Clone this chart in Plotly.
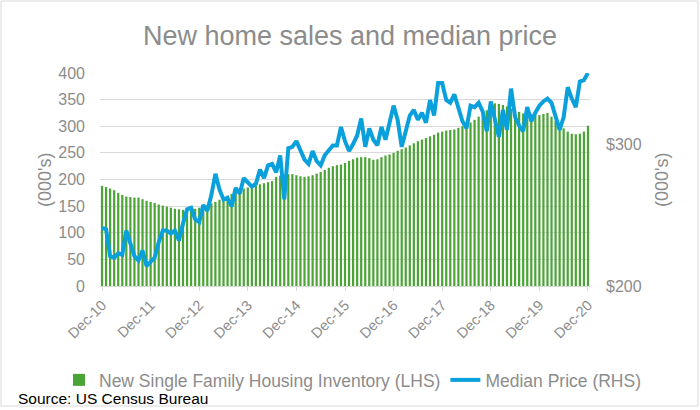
import plotly.graph_objects as go

# Monthly, Dec-2010 .. Dec-2020 (121 months)
inventory = [188, 186, 183, 180, 175, 171, 168, 167, 166, 166, 163, 160,
             158, 156, 153, 151, 149, 147, 145, 144, 143, 143, 144, 145,
             147, 149, 152, 155, 158, 162, 166, 170, 173, 177, 180, 183,
             185, 187, 189, 191, 193, 195, 197, 205, 207, 209, 210, 210,
             208, 206, 205, 206, 208, 211, 214, 218, 222, 225, 227, 228,
             231, 235, 238, 241, 242, 242, 240, 237, 238, 242, 245, 247,
             250, 254, 257, 260, 264, 268, 272, 275, 278, 281, 284, 288,
             290, 292, 293, 294, 297, 300, 303, 307, 312, 318, 324, 330,
             336, 343, 342, 340, 337, 333, 329, 327, 324, 324, 323, 321,
             321, 323, 325, 318, 310, 302, 296, 290, 286, 285, 286, 290,
             301]

median_price = [241, 240, 221, 220, 223, 222, 239, 231, 221, 218, 225, 214,
                217, 220, 231, 239, 239, 237, 239, 232, 244, 254, 255, 247,
                245, 257, 253, 264, 279, 268, 261, 262, 256, 269, 265, 276,
                273, 270, 272, 282, 276, 285, 286, 280, 292, 261, 297, 298,
                302, 295, 289, 286, 295, 288, 285, 292, 295, 299, 299, 312,
                302, 295, 300, 306, 318, 298, 311, 303, 299, 312, 303, 315,
                327, 317, 298, 309, 320, 324, 317, 322, 315, 331, 320, 343,
                343, 331, 329, 335, 325, 316, 311, 327, 326, 329, 323, 309,
                330, 316, 305, 324, 310, 339, 319, 313, 309, 326, 316, 322,
                327, 330, 332, 329, 320, 310, 319, 340, 332, 326, 344, 345,
                350]

month_index = list(range(len(inventory)))
tick_months = list(range(0, 121, 12))
tick_labels = ["Dec-10", "Dec-11", "Dec-12", "Dec-13", "Dec-14", "Dec-15",
               "Dec-16", "Dec-17", "Dec-18", "Dec-19", "Dec-20"]
left_ticks = [0, 50, 100, 150, 200, 250, 300, 350, 400]
right_ticks = [200, 300]
right_tick_labels = ["$200", "$300"]

GRAY = "#8c8c8c"
FONT = "Liberation Sans, Arial, sans-serif"

fig = go.Figure()
fig.add_trace(go.Bar(
    x=month_index, y=inventory,
    name="New Single Family Housing Inventory (LHS)",
    marker=dict(color="#4CA437", line=dict(width=0)),
    yaxis="y",
))
fig.add_trace(go.Scatter(
    x=month_index, y=median_price,
    name="Median Price (RHS)",
    mode="lines",
    line=dict(color="#0AA0DC", width=4),
    yaxis="y2",
))

W, H = 700, 410
L, R, T, B = 100, 110, 73, 124
pw, ph = W - L - R, H - T - B

def px_x(x):
    return (x - L) / pw

def px_y(y):
    return (H - B - y) / ph

fig.update_layout(
    width=W, height=H,
    margin=dict(l=L, r=R, t=T, b=B, pad=0),
    paper_bgcolor="white", plot_bgcolor="white",
    font=dict(family=FONT, color=GRAY, size=15),
    title=dict(text="New home sales and median price", x=0.5, xanchor="center",
               y=1 - 36 / H, yanchor="middle",
               font=dict(size=27, color=GRAY, family=FONT)),
    bargap=0.45,
    showlegend=True,
    legend=dict(orientation="h", x=px_x(59), xanchor="left", y=px_y(380), yanchor="middle",
                font=dict(size=17.5, color=GRAY), bgcolor="rgba(0,0,0,0)",
                itemwidth=30, traceorder="normal", borderwidth=0),
    xaxis=dict(
        range=[-0.5, 120.5], tickmode="array", tickvals=tick_months, ticktext=tick_labels,
        tickangle=-45, tickfont=dict(size=14.5, color=GRAY), showgrid=False,
        showline=True, linecolor="#d9d9d9", linewidth=1,
        ticks="outside", ticklen=4, tickcolor="#d9d9d9", zeroline=False,
    ),
    yaxis=dict(
        range=[0, 400], tickmode="array", tickvals=left_ticks,
        tickfont=dict(size=16, color=GRAY), showgrid=True, gridcolor="#d9d9d9",
        gridwidth=1, zeroline=False, showline=False, ticks="", ticklabelstandoff=14,
    ),
    yaxis2=dict(
        range=[200, 350], overlaying="y", side="right", tickmode="array",
        tickvals=right_ticks, ticktext=right_tick_labels,
        tickfont=dict(size=16, color=GRAY), showgrid=False, zeroline=False,
        showline=False, ticks="", ticklabelstandoff=15,
    ),
    annotations=[
        dict(text="(000's)", x=px_x(45), y=px_y(180), xref="paper", yref="paper",
             textangle=-90, showarrow=False, font=dict(size=18, color=GRAY),
             xanchor="center", yanchor="middle"),
        dict(text="(000's)", x=px_x(662), y=px_y(180), xref="paper", yref="paper",
             textangle=-90, showarrow=False, font=dict(size=18, color=GRAY),
             xanchor="center", yanchor="middle"),
        dict(text="Source: US Census Bureau", x=px_x(16), y=px_y(398), xref="paper",
             yref="paper", showarrow=False, xanchor="left", yanchor="middle",
             font=dict(size=15.5, color="black")),
    ],
    shapes=[
        dict(type="rect", xref="paper", yref="paper",
             x0=px_x(1), x1=px_x(698), y0=px_y(406), y1=px_y(1),
             line=dict(color="#d9d9d9", width=1), fillcolor="rgba(0,0,0,0)"),
    ],
)

fig.write_html("out.html", config={"displayModeBar": False},
               post_script="document.body.style.margin='0';")
